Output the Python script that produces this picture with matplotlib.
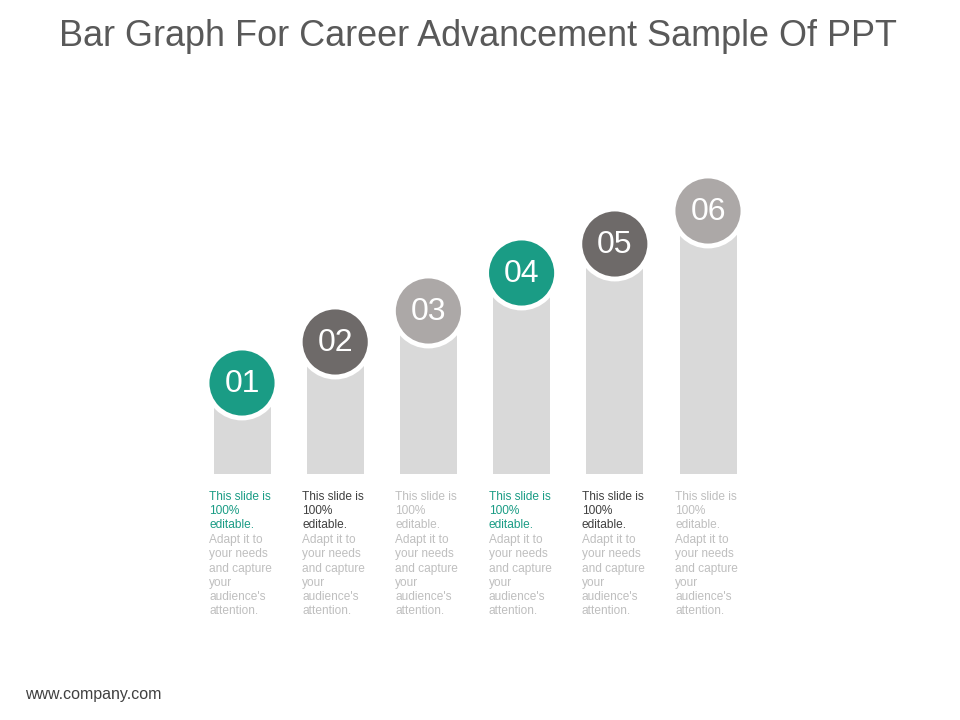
import matplotlib
matplotlib.use("Agg")
import matplotlib.pyplot as plt
from matplotlib.patches import Circle

plt.rcParams['font.family'] = ['Liberation Sans', 'DejaVu Sans']

# data
labels = ["01", "02", "03", "04", "05", "06"]
values = [91, 132, 163, 201, 230, 263]
circle_colors = ["#1A9C85", "#6E6A69", "#ACA8A7", "#1A9C85", "#6E6A69", "#ACA8A7"]
head_colors = ["#1A9C85", "#404040", "#BFBFBF", "#1A9C85", "#404040", "#BFBFBF"]
head_text = "This slide is\n100%\neditable."
body_text = "Adapt it to\nyour needs\nand capture\nyour\naudience's\nattention."
title = "Bar Graph For Career Advancement Sample Of PPT"
footer = "www.company.com"

W, H = 960, 720
base = 474  # pixel row of bar bottoms

fig = plt.figure(figsize=(9.6, 7.2), dpi=100)
ax = fig.add_axes([0, 0, 1, 1])
# data y = height above bar baseline, x = pixels
ax.set_xlim(0, W)
ax.set_ylim(base - H, base)
ax.axis("off")

xs = [242 + 93.2 * i for i in range(len(values))]
ax.bar(xs, values, width=57, color="#D9D9D9", zorder=1)

for x, v, lab, c in zip(xs, values, labels, circle_colors):
    ax.add_patch(Circle((x, v), 35, facecolor=c, edgecolor="white", linewidth=3.5, zorder=3))
    ax.text(x, v - 1, lab, color="white", fontsize=23, ha="center", va="center", zorder=4)

pitch = 14.4
for x, hc in zip(xs, head_colors):
    ax.text(x - 33, -17, head_text, color=hc, fontsize=8.6, ha="left", va="top",
            linespacing=1.25)
    ax.text(x - 33, -17 - 3 * pitch, body_text, color="#BFBFBF", fontsize=8.6,
            ha="left", va="top", linespacing=1.25)

fig.text(0.498, 1 - 36 / H, title, color="#595959", fontsize=25.9, ha="center", va="center")
fig.text(25 / W, 1 - 695 / H, footer, color="#404040", fontsize=11.5, ha="left", va="center")

fig.savefig("out.png", dpi=100, facecolor="white")
